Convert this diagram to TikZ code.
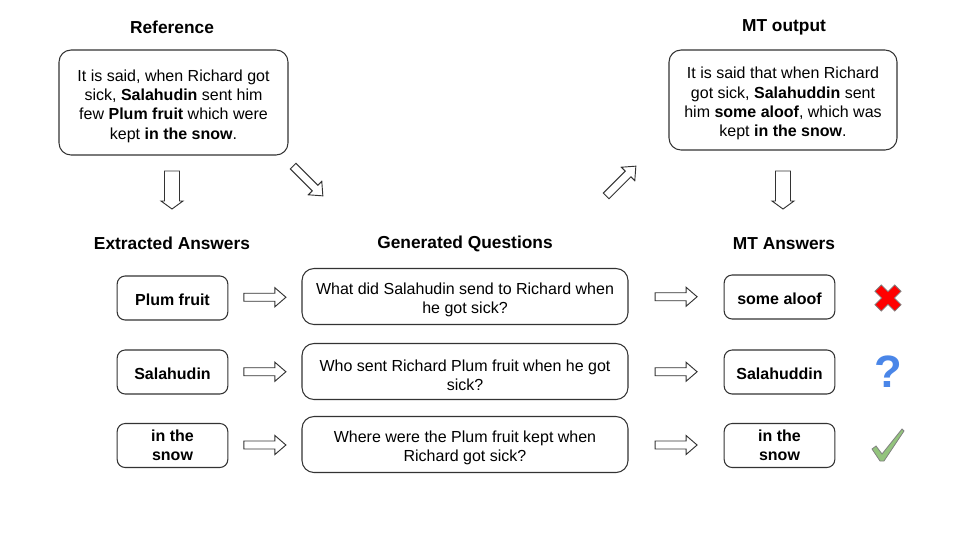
\documentclass[tikz,border=0pt]{standalone}
\usepackage{fontspec}
\setmainfont{Liberation Sans}
\usetikzlibrary{calc}

\definecolor{linegray}{HTML}{333333}
\definecolor{crossred}{HTML}{FF0000}
\definecolor{askblue}{HTML}{4A86E8}
\definecolor{tickgreen}{HTML}{93C47D}

% first-line struts, push box text down a little
\newcommand{\topstrut}{\rule{0pt}{14pt}}
\newcommand{\ansstrut}{\rule{0pt}{12pt}}

\begin{document}
\begin{tikzpicture}[x=0.75pt, y=-0.75pt,
    box/.style={draw=linegray, line width=0.8pt, rounded corners=9pt,
        align=center, inner sep=0pt, font=\fontsize{12}{14.5}\selectfont},
    ansbox/.style={box, rounded corners=6pt, minimum width=83pt, minimum height=33pt,
        font=\fontsize{12}{14.5}\selectfont\bfseries},
    qbox/.style={box, minimum width=244.5pt, minimum height=42pt},
    title/.style={font=\fontsize{13}{15}\selectfont\bfseries},
    arrowline/.style={draw=linegray, line width=0.7pt, fill=white, line join=miter},
    harrow/.pic={\path[arrowline] (-21,-4) -- (10,-4) -- (10,-9.5) -- (21,0)
        -- (10,9.5) -- (10,4) -- (-21,4) -- cycle;},
    varrow/.pic={\path[arrowline] (-19,-7.5) -- (11,-7.5) -- (11,-11) -- (19,0)
        -- (11,11) -- (11,7.5) -- (-19,7.5) -- cycle;}
]

    % ── Page frame ───────────────────────────────────────────────────────────
    \useasboundingbox (0,0) rectangle (960,540);

    % ── Top row: reference and MT output ─────────────────────────────────────
    \node[title] (hdRef) at (172,27.5) {Reference};
    \node[title] (hdMT)  at (784,27.5) {MT output};

    \node[box, minimum width=171.75pt, minimum height=78.75pt] (ref) at (173.5,102.5)
        {\topstrut It is said, when Richard got\\
         sick, \textbf{Salahudin} sent him\\
         few \textbf{Plum fruit} which were\\
         kept \textbf{in the snow}.};
    \node[box, minimum width=171pt, minimum height=75pt] (mtout) at (783,100)
        {\topstrut It is said that when Richard\\
         got sick, \textbf{Salahuddin} sent\\
         him \textbf{some aloof}, which was\\
         kept \textbf{in the snow}.};

    % ── Block arrows between the two rows ────────────────────────────────────
    \pic[rotate=-90] at (172,190) {varrow};
    \pic[rotate=-90] at (783,190) {varrow};
    \pic[rotate=-45] at (308,181) {harrow};
    \pic[rotate=45]  at (621,181) {harrow};

    % ── Column headers ───────────────────────────────────────────────────────
    \node[title] (hdAns) at (172,243.5) {Extracted Answers};
    \node[title] (hdQ)   at (465,243.5) {Generated Questions};
    \node[title] (hdMTa) at (784,243.5) {MT Answers};

    % ── Row 1 ────────────────────────────────────────────────────────────────
    \node[ansbox] (ans1) at (172.5,298) {\ansstrut Plum fruit};
    \node[qbox]   (q1)   at (465,296.5) {\topstrut What did Salahudin send to Richard when\\he got sick?};
    \node[ansbox] (mt1)  at (779.5,297) {\ansstrut some aloof};

    % ── Row 2 ────────────────────────────────────────────────────────────────
    \node[ansbox] (ans2) at (172.5,372) {\ansstrut Salahudin};
    \node[qbox]   (q2)   at (465,371.5) {\topstrut Who sent Richard Plum fruit when he got\\sick?};
    \node[ansbox] (mt2)  at (779.5,372) {\ansstrut Salahuddin};

    % ── Row 3 ────────────────────────────────────────────────────────────────
    \node[ansbox] (ans3) at (172.5,445.5) {in the\\snow};
    \node[qbox]   (q3)   at (465,444.5) {\topstrut Where were the Plum fruit kept when\\Richard got sick?};
    \node[ansbox] (mt3)  at (779.5,445.5) {in the\\snow};

    % ── Row arrows ───────────────────────────────────────────────────────────
    \foreach \i in {1,2,3} {
        \pic at ($(ans\i.east)!0.5!(q\i.west)$) {harrow};
        \pic at ($(q\i.east)!0.5!(mt\i.west)$) {harrow};
    }

    % ── Verdict marks ────────────────────────────────────────────────────────
    % wrong: red cross
    \begin{scope}[shift={(888,298)}, rotate=45]
        \filldraw[fill=crossred, draw=gray, line width=0.6pt]
            (14,4.5) -- (4.5,4.5) -- (4.5,14) -- (-4.5,14) -- (-4.5,4.5) -- (-14,4.5)
            -- (-14,-4.5) -- (-4.5,-4.5) -- (-4.5,-14) -- (4.5,-14) -- (4.5,-4.5)
            -- (14,-4.5) -- cycle;
    \end{scope}
    % unsure: question mark
    \node[text=askblue, font=\fontsize{34}{34}\selectfont\bfseries] (unsure) at (888,372) {?};
    % right: green tick
    \filldraw[fill=tickgreen, draw=gray, line width=0.6pt, shift={(888,445)}]
        (-16,4) -- (-12,1) -- (-6,9) -- (14,-16) -- (16,-14) -- (-4,16) -- (-8,16) -- cycle;

\end{tikzpicture}
\end{document}
